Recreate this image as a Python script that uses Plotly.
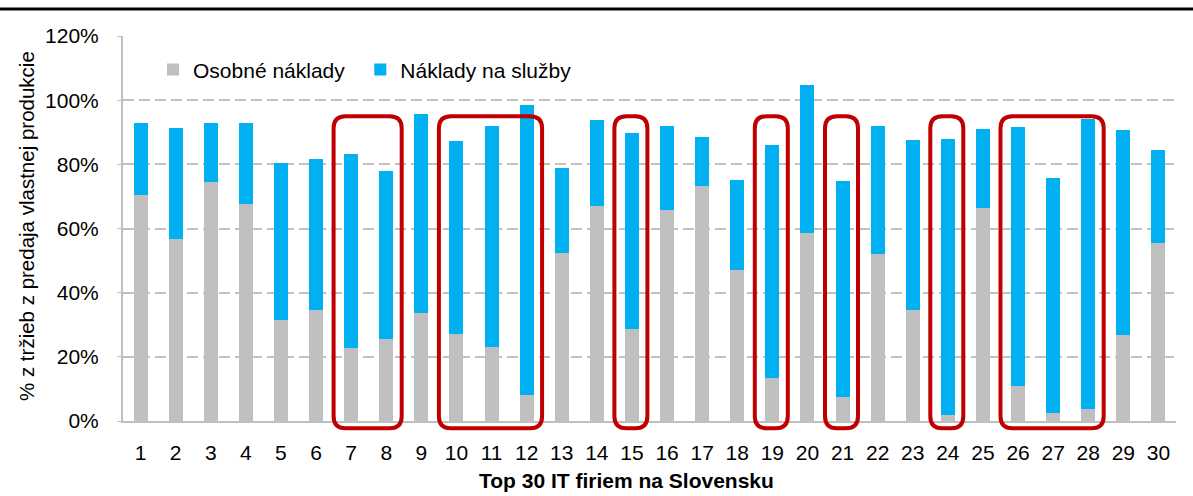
import plotly.graph_objects as go

firms = [str(i) for i in range(1, 31)]
totals = [92.8, 91.3, 92.9, 92.8, 80.3, 81.6, 83.2, 77.8, 95.6, 87.2,
          91.9, 98.4, 78.8, 93.7, 89.7, 91.9, 88.4, 75.1, 86.0, 104.7,
          74.9, 92.1, 87.6, 87.9, 91.0, 91.5, 75.6, 94.0, 90.8, 84.4]
osobne = [70.3, 56.7, 74.5, 67.6, 31.4, 34.5, 22.7, 25.5, 33.6, 27.0,
          23.2, 8.1, 52.5, 66.9, 28.6, 65.7, 73.2, 47.0, 13.3, 58.5,
          7.5, 52.1, 34.5, 2.0, 66.4, 11.0, 2.5, 3.8, 26.9, 55.4]
sluzby = [round(t - o, 1) for t, o in zip(totals, osobne)]
highlight_groups = [(7, 8), (10, 12), (15, 15), (19, 19), (21, 21), (24, 24), (26, 28)]

FONT = "Liberation Sans, Arial, sans-serif"
GRAY = "#BFBFBF"
BLUE = "#00B0F0"
RED = "#C00000"

fig = go.Figure()
fig.add_trace(go.Bar(x=firms, y=osobne, name="Osobné náklady\u2002", marker_color=GRAY,
                     marker_line_width=0))
fig.add_trace(go.Bar(x=firms, y=sluzby, name="Náklady na služby", marker_color=BLUE,
                     marker_line_width=0))

W, H = 1193, 496
ml, mr, mt, mb = 123, 17, 36, 75
pw, ph = W - ml - mr, H - mt - mb
n = len(firms)

def xp(i):
    return (i - 0.5) / n

r = 12
rx, ry = r / pw, r / ph
shapes = []
for a, b in highlight_groups:
    x0 = xp(a) - 0.5 / n
    x1 = xp(b) + 0.44 / n
    y0 = -2.25 / 120
    y1 = 95.0 / 120
    path = (f"M{x0+rx},{y1} L{x1-rx},{y1} Q{x1},{y1} {x1},{y1-ry} "
            f"L{x1},{y0+ry} Q{x1},{y0} {x1-rx},{y0} L{x0+rx},{y0} "
            f"Q{x0},{y0} {x0},{y0+ry} L{x0},{y1-ry} Q{x0},{y1} {x0+rx},{y1} Z")
    shapes.append(dict(type="path", xref="paper", yref="paper", path=path,
                       line=dict(color=RED, width=4), fillcolor="rgba(0,0,0,0)"))

# top rule line
ty = (H - mb - 9) / ph
shapes.append(dict(type="line", xref="paper", yref="paper",
                   x0=-ml / pw, x1=(pw + mr) / pw, y0=ty, y1=ty,
                   line=dict(color="black", width=3)))

fig.update_layout(
    width=W, height=H,
    margin=dict(l=ml, r=mr, t=mt, b=mb, autoexpand=False),
    barmode="stack",
    bargap=0.6,
    plot_bgcolor="white", paper_bgcolor="white",
    font=dict(family=FONT, size=21, color="black"),
    shapes=shapes,
    showlegend=True,
    legend=dict(orientation="h", x=0.0285, y=0.912, xanchor="left", yanchor="middle",
                bgcolor="rgba(255,255,255,0)", font=dict(size=21), traceorder="normal"),
    xaxis=dict(type="category", range=[-0.5, n - 0.5], showgrid=False, automargin=False,
               showline=True, linecolor=GRAY, linewidth=2, ticks="",
               tickfont=dict(size=21), ticklabelstandoff=12),
    yaxis=dict(range=[0, 120], dtick=20, ticksuffix="%", showgrid=True, automargin=False,
               gridcolor=GRAY, gridwidth=2, griddash="11px,5px",
               showline=True, linecolor=GRAY, linewidth=2,
               ticks="outside", ticklen=4, tickcolor=GRAY,
               tickfont=dict(size=21), zeroline=False, ticklabelstandoff=14),
    annotations=[
        dict(text="<b>Top 30 IT firiem na Slovensku</b>", xref="paper", yref="paper",
             x=(626 - ml) / pw, y=-(480 - (H - mb)) / ph, xanchor="center",
             yanchor="middle", showarrow=False, font=dict(size=21)),
        dict(text="% z tržieb z predaja vlastnej produkcie", xref="paper", yref="paper",
             x=(26 - ml) / pw, y=(H - mb - 226) / ph, xanchor="center", yanchor="middle",
             textangle=-90, showarrow=False, font=dict(size=20.5)),
    ],
)

fig.write_html("out.html", config={"displayModeBar": False},
               post_script="document.body.style.margin='0px';document.body.style.overflow='hidden';")
